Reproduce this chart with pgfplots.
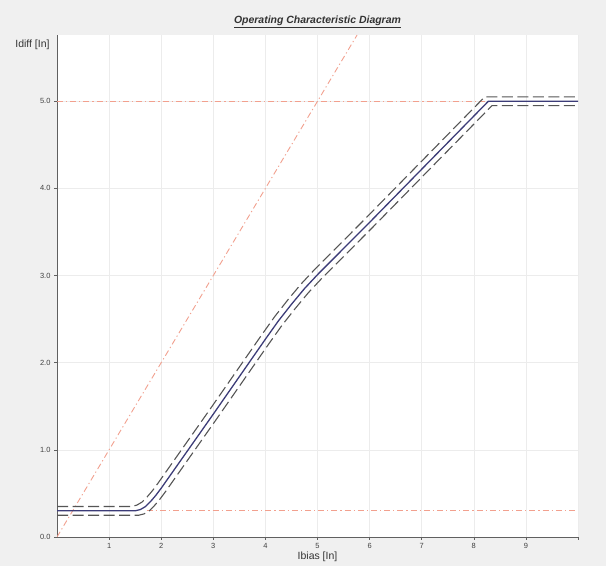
\documentclass[border=0pt]{standalone}
\usepackage{pgfplots}
\pgfplotsset{compat=1.18}
\usepackage{fontspec}
\setmainfont{Liberation Sans}
\definecolor{bgc}{HTML}{F0F0F0}
\definecolor{gridc}{HTML}{ECECEC}
\definecolor{redc}{HTML}{F2A08E}
\definecolor{navyc}{HTML}{3C3C78}
\definecolor{dashc}{HTML}{555555}
\definecolor{axc}{HTML}{606060}
\begin{document}
\begin{tikzpicture}[x=1bp,y=1bp]
\fill[bgc] (0,0) rectangle (606,566);
\begin{axis}[
  at={(57bp,29bp)}, anchor=south west,
  scale only axis, width=521bp, height=502bp,
  xmin=0, xmax=10, ymin=0, ymax=5.76,
  axis background/.style={fill=white},
  axis x line*=bottom, axis y line*=left,
  axis line style={axc, line width=0.9pt},
  xtick={1,2,3,4,5,6,7,8,9,10},
  xticklabels={1,2,3,4,5,6,7,8,9,{}},
  ytick={0,1,2,3,4,5},
  yticklabel style={/pgf/number format/.cd, fixed, fixed zerofill, precision=1},
  /pgf/number format/assume math mode=true,
  tick label style={font=\fontsize{7.5}{8}\selectfont, text=black!75},
  tick align=outside, major tick length=3bp,
  tick style={axc, line width=0.6pt},
  grid=major, major grid style={gridc, line width=0.6pt},
  xlabel={Ibias [In]},
  xlabel style={font=\fontsize{10.5}{11}\selectfont, text=black!80, at={(axis description cs:0.5,0)}, anchor=north, yshift=-11bp},
  ylabel={Idiff [In]},
  ylabel style={font=\fontsize{10.5}{11}\selectfont, text=black!80, rotate=-90, at={(axis description cs:0,1)}, anchor=north east, xshift=-4bp, yshift=-1bp},
  title={\underline{\textbf{\textit{Operating Characteristic Diagram}}}},
  title style={font=\fontsize{10.5}{12}\selectfont, text=black!80, at={(axis description cs:0.5,1)}, anchor=south, yshift=-2bp},
]
% red reference lines
\addplot[redc, line width=0.9pt, dash pattern=on 6bp off 3bp on 1.2bp off 3bp] coordinates {(0,0) (5.76,5.76)};
\addplot[redc, line width=0.9pt, dash pattern=on 6bp off 3bp on 1.2bp off 3bp] coordinates {(0,5.0) (8.28,5.0)};
\addplot[redc, line width=0.9pt, dash pattern=on 6bp off 3bp on 1.2bp off 3bp] coordinates {(1.72,0.3) (10,0.3)};
% tolerance bands
\addplot[dashc, line width=1.1pt, dash pattern=on 11bp off 4.5bp] coordinates {
 (0,0.35) (1.43,0.35) (1.53,0.365) (1.63,0.40) (1.73,0.46) (1.83,0.53) (1.93,0.61)
 (2.93,1.46) (3.93,2.32) (4.18,2.53) (4.43,2.72) (4.68,2.90) (4.93,3.06) (5.43,3.36) (5.93,3.66) (6.93,4.27) (8.21,5.05) (10,5.05)};
\addplot[dashc, line width=1.1pt, dash pattern=on 11bp off 4.5bp] coordinates {
 (0,0.25) (1.57,0.25) (1.67,0.265) (1.77,0.30) (1.87,0.36) (1.97,0.43) (2.07,0.51)
 (3.07,1.36) (4.07,2.22) (4.32,2.43) (4.57,2.62) (4.82,2.80) (5.07,2.96) (5.57,3.26) (6.07,3.56) (7.07,4.17) (8.35,4.95) (10,4.95)};
% characteristic
\addplot[navyc, line width=1.3pt] coordinates {
 (0,0.3) (1.5,0.3) (1.6,0.315) (1.7,0.35) (1.8,0.41) (1.9,0.48) (2.0,0.56)
 (3,1.41) (4,2.27) (4.25,2.48) (4.5,2.67) (4.75,2.85) (5,3.01) (5.5,3.31) (6,3.61) (7,4.22) (8.28,5.0) (10,5.0)};
\end{axis}
\end{tikzpicture}
\end{document}
